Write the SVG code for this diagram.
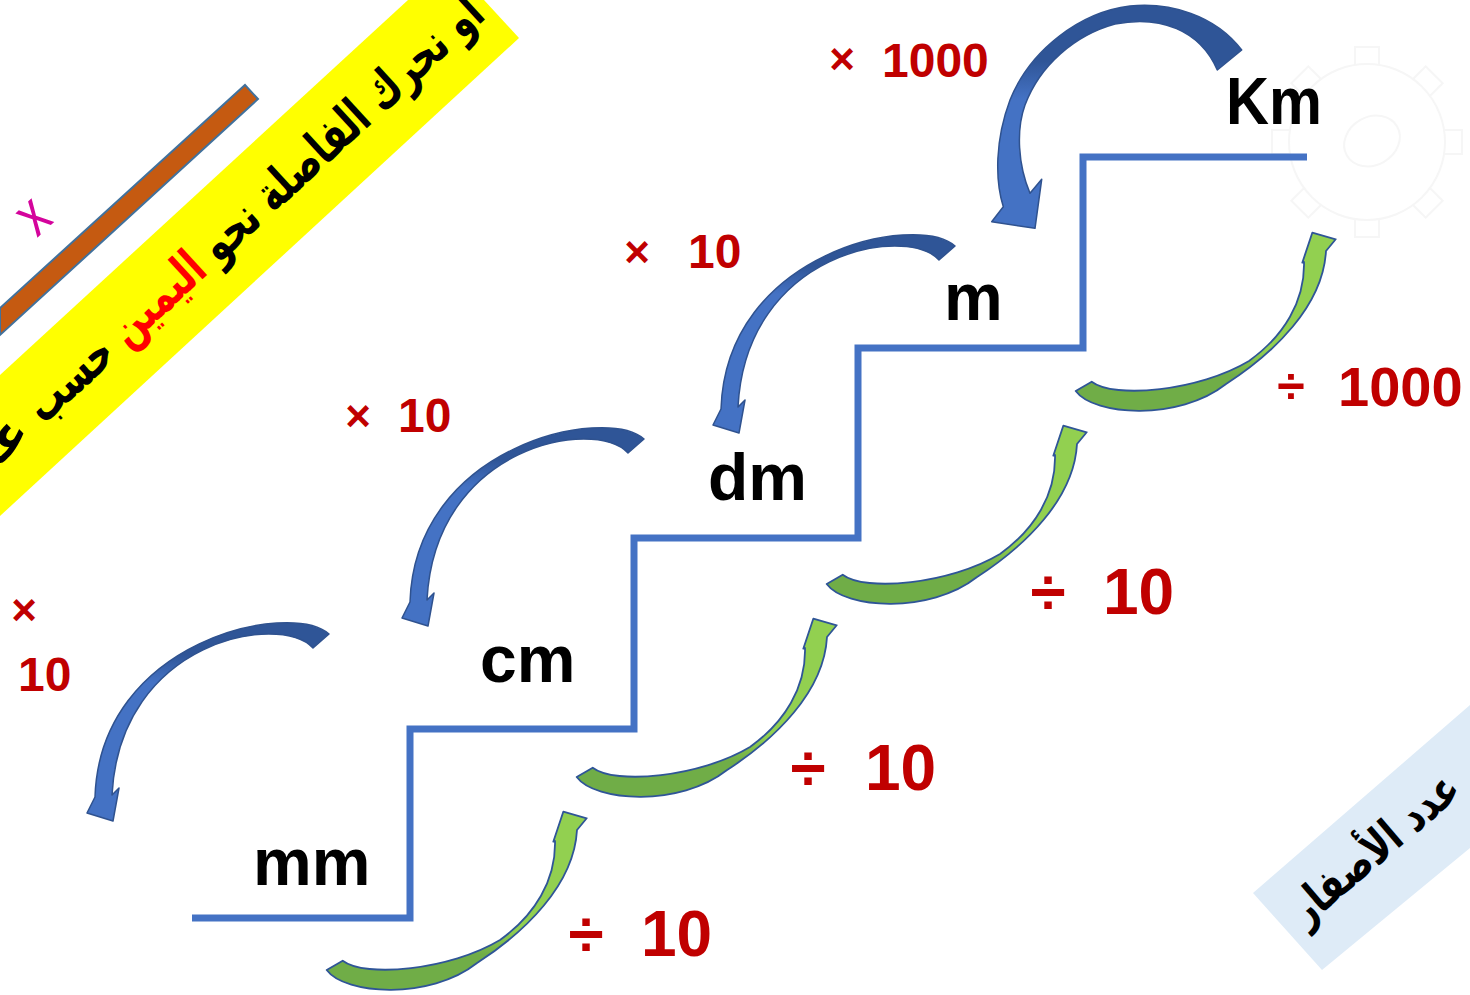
<svg xmlns="http://www.w3.org/2000/svg" xmlns:xlink="http://www.w3.org/1999/xlink" width="1470" height="995" viewBox="0 0 1470 995">
<defs>
<style>
.unit{font-family:"Liberation Sans",Arial,sans-serif;font-weight:bold;font-size:66px;fill:#000}
.op{font-family:"Liberation Sans",Arial,sans-serif;font-weight:bold;fill:#C00000}
.ar{font-family:"DejaVu Sans","Noto Sans",sans-serif;font-weight:bold;fill:#000}
.stair{fill:none;stroke:#4472C4;stroke-width:7;stroke-linejoin:miter}
.blue{stroke:#2F528F;stroke-width:1.5;stroke-linejoin:round}
.green{stroke:#2F5597;stroke-width:1.8;stroke-linejoin:round}
.gear{fill:#fff;stroke:#F6F6F6;stroke-width:2}
</style>
<linearGradient id="gBlue" x1="0" y1="0" x2="0" y2="1">
<stop offset="0" stop-color="#2F5597"/><stop offset="0.16" stop-color="#2F5597"/><stop offset="0.3" stop-color="#4472C4"/><stop offset="1" stop-color="#4472C4"/>
</linearGradient>
<linearGradient id="gBlueBig" x1="0" y1="0" x2="0" y2="1">
<stop offset="0" stop-color="#2F5597"/><stop offset="0.25" stop-color="#2F5597"/><stop offset="0.42" stop-color="#4472C4"/><stop offset="1" stop-color="#4472C4"/>
</linearGradient>
<linearGradient id="gGreen" x1="0" y1="0" x2="0" y2="1">
<stop offset="0" stop-color="#92D050"/><stop offset="0.66" stop-color="#92D050"/><stop offset="0.8" stop-color="#70AD47"/><stop offset="1" stop-color="#70AD47"/>
</linearGradient>
<path id="blueArrow" class="blue" fill="url(#gBlue)" d="M329,634 C290,600 100,640 95,797 L87,813 L113,821 L119,788 L112,795 C120,640 280,612 313,648 Z"/>
<path id="greenArrow" class="green" fill="url(#gGreen)" d="M326.7,970 C345,995 430,1000 476.7,963.3 C525,932 574,885 577,830 L586.7,818.3 L563.3,811.7 L553.3,841.7 L555,841 C556,880 535,915 500,940 C450,970 365,978 342.7,960.7 Z"/>
</defs>

<rect x="0" y="0" width="1470" height="995" fill="#fff"/>

<!-- faint gear -->
<g id="gear">
<g transform="translate(1367,142)">
<rect class="gear" x="-12" y="-95" width="24" height="26" transform="rotate(0)"/>
<rect class="gear" x="-12" y="-95" width="24" height="26" transform="rotate(45)"/>
<rect class="gear" x="-12" y="-95" width="24" height="26" transform="rotate(90)"/>
<rect class="gear" x="-12" y="-95" width="24" height="26" transform="rotate(135)"/>
<rect class="gear" x="-12" y="-95" width="24" height="26" transform="rotate(180)"/>
<rect class="gear" x="-12" y="-95" width="24" height="26" transform="rotate(225)"/>
<rect class="gear" x="-12" y="-95" width="24" height="26" transform="rotate(270)"/>
<rect class="gear" x="-12" y="-95" width="24" height="26" transform="rotate(315)"/>
<circle class="gear" cx="0" cy="0" r="78"/>
<ellipse class="gear" cx="5" cy="-1" rx="29" ry="24" transform="rotate(-30 5 -1)"/>
</g>
</g>

<!-- yellow banner -->
<g id="banner-yellow">
<polygon points="408,0 484,0 519,38 0,516 0,375" fill="#FFFF00"/>
<g transform="translate(0,445) rotate(-42.6)">
<text class="ar" x="648" y="15" font-size="50" direction="rtl" text-anchor="start" textLength="602" lengthAdjust="spacingAndGlyphs">او نحرك الفاصلة نحو <tspan fill="#FF0000">اليمين</tspan> حسب</text>
<text class="ar" x="30" y="15" font-size="50" direction="rtl" text-anchor="start">عدد</text>
</g>
</g>

<!-- orange bar and x -->
<g id="bar">
<polygon points="245,85 258,99 0,335 0,308" fill="#C55A11" stroke="#41719C" stroke-width="2" stroke-linejoin="miter"/>
</g>
<g id="mark-x">
<text x="0" y="0" font-family="'Liberation Sans',Arial,sans-serif" font-size="62" fill="#D4049C" text-anchor="middle" transform="translate(35,218) rotate(-43) scale(0.78,1) translate(0,16)">x</text>
</g>

<!-- blue banner -->
<g id="banner-blue">
<polygon points="1253,893 1470,705 1470,848 1322,970" fill="#DEEBF7"/>
<g transform="translate(1350,887) rotate(-40.4)">
<text class="ar" x="147" y="2" font-size="46" direction="rtl" text-anchor="start" textLength="207" lengthAdjust="spacingAndGlyphs">عدد الأصفار</text>
</g>
</g>

<!-- staircase -->
<g id="staircase">
<polyline class="stair" points="192,918 410,918 410,729 634,729 634,538 858,538 858,348 1083,348 1083,157 1307,157"/>
</g>

<!-- unit labels -->
<g id="node-mm"><text class="unit" x="253" y="885">mm</text></g>
<g id="node-cm"><text class="unit" x="480" y="682">cm</text></g>
<g id="node-dm"><text class="unit" x="708" y="500">dm</text></g>
<g id="node-m"><text class="unit" x="944" y="320">m</text></g>
<g id="node-km"><text class="unit" x="1226" y="124" textLength="96" lengthAdjust="spacingAndGlyphs">Km</text></g>

<!-- connectors -->
<g id="connectors">
<use xlink:href="#blueArrow"/>
<use xlink:href="#blueArrow" transform="translate(315,-195)"/>
<use xlink:href="#blueArrow" transform="translate(626,-388)"/>
<path class="blue" fill="url(#gBlueBig)" d="M1241.7,50 C1215,15 1170,2 1130,6 C1080,12 1030,50 1010,100 C995,140 995,180 1003.3,206.7 L991.7,221.7 L1035,228.3 L1041.7,179.3 L1030,193.3 C1018,165 1016,130 1025,105 C1040,65 1075,35 1115,24 C1160,15 1200,30 1217.3,70 Z"/>
<use xlink:href="#greenArrow"/>
<use xlink:href="#greenArrow" transform="translate(250,-193)"/>
<use xlink:href="#greenArrow" transform="translate(500,-386)"/>
<use xlink:href="#greenArrow" transform="translate(749,-579)"/>
</g>

<!-- operation labels -->
<g id="label-x1000">
<text class="op" x="842" y="74" font-size="44" text-anchor="middle">×</text>
<text class="op" x="882" y="77" font-size="48">1000</text>
</g>
<g id="label-x10-a">
<text class="op" x="637" y="267" font-size="44" text-anchor="middle">×</text>
<text class="op" x="688" y="268" font-size="48">10</text>
</g>
<g id="label-x10-b">
<text class="op" x="358" y="431" font-size="44" text-anchor="middle">×</text>
<text class="op" x="398" y="432" font-size="48">10</text>
</g>
<g id="label-x10-c">
<text class="op" x="24" y="625" font-size="44" text-anchor="middle">×</text>
<text class="op" x="18" y="691" font-size="48">10</text>
</g>
<g id="label-d1000">
<text class="op" x="1291" y="403" font-size="50" text-anchor="middle">÷</text>
<text class="op" x="1338" y="406" font-size="56">1000</text>
</g>
<g id="label-d10-a">
<text class="op" x="1048" y="614" font-size="64" text-anchor="middle">÷</text>
<text class="op" x="1103" y="614" font-size="64">10</text>
</g>
<g id="label-d10-b">
<text class="op" x="808" y="790" font-size="64" text-anchor="middle">÷</text>
<text class="op" x="865" y="790" font-size="64">10</text>
</g>
<g id="label-d10-c">
<text class="op" x="586" y="956" font-size="64" text-anchor="middle">÷</text>
<text class="op" x="641" y="956" font-size="64">10</text>
</g>
</svg>
